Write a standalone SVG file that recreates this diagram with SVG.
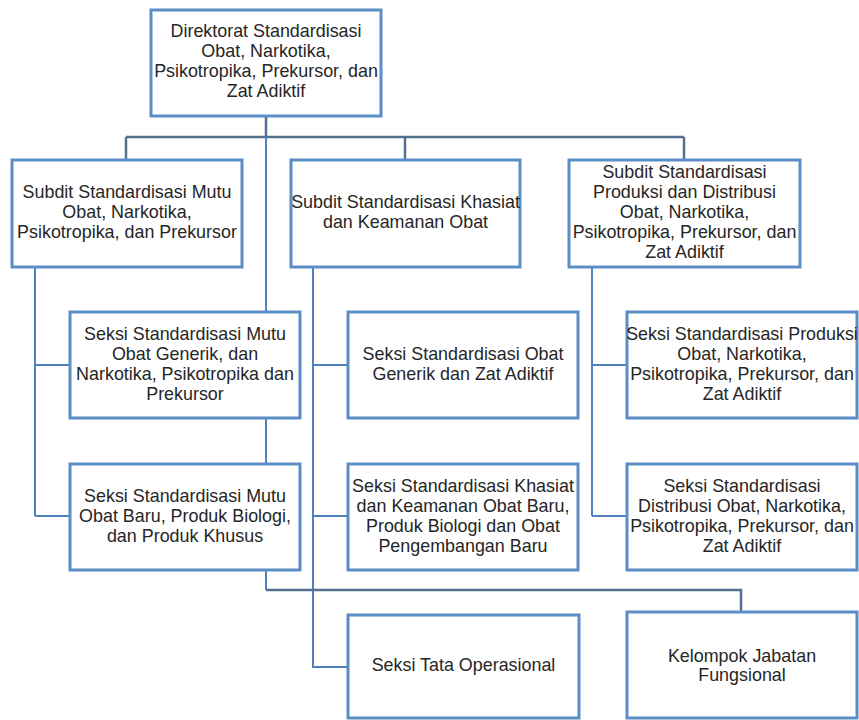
<svg xmlns="http://www.w3.org/2000/svg" width="859" height="720" viewBox="0 0 859 720">
<style>
.box{fill:#fff;stroke:#5b8ec6;stroke-width:3}
.t{font-family:"Liberation Sans",Arial,sans-serif;font-size:17.9px;fill:#262626;text-anchor:middle}
.cb{fill:none;stroke:#4f82bd;stroke-width:2}
.cg{fill:none;stroke:#53708f;stroke-width:2.5}
</style>
<rect width="859" height="720" fill="#fff"/>
<g id="connectors">
<path class="cg" d="M266 116V137M126 137H684M126 137V160M405 137V160M684 137V160"/>
<path class="cb" d="M266 137V312M266 418V464"/>
<path class="cb" d="M35 267V516M35 365H70M35 516H70"/>
<path class="cb" d="M313 267V667H348M313 365H348M313 516H348"/>
<path class="cb" d="M592 267V516M592 365H627M592 516H627"/>
<path class="cb" d="M266 570V590"/>
<path class="cg" d="M266 590H741V612"/>
</g>
<g id="direktorat">
<rect class="box" x="151" y="10" width="230" height="106"/>
<text class="t" x="266" y="37">Direktorat Standardisasi</text>
<text class="t" x="266" y="57">Obat, Narkotika,</text>
<text class="t" x="266" y="77">Psikotropika, Prekursor, dan</text>
<text class="t" x="266" y="97">Zat Adiktif</text>
</g>
<g id="subdit-mutu">
<rect class="box" x="12" y="160" width="230" height="107"/>
<text class="t" x="127" y="198">Subdit Standardisasi Mutu</text>
<text class="t" x="127" y="218">Obat, Narkotika,</text>
<text class="t" x="127" y="238">Psikotropika, dan Prekursor</text>
</g>
<g id="subdit-khasiat">
<rect class="box" x="291" y="160" width="229" height="107"/>
<text class="t" x="405.5" y="208">Subdit Standardisasi Khasiat</text>
<text class="t" x="405.5" y="228">dan Keamanan Obat</text>
</g>
<g id="subdit-produksi">
<rect class="box" x="569" y="160" width="231" height="107"/>
<text class="t" x="684.5" y="178">Subdit Standardisasi</text>
<text class="t" x="684.5" y="198">Produksi dan Distribusi</text>
<text class="t" x="684.5" y="218">Obat, Narkotika,</text>
<text class="t" x="684.5" y="238">Psikotropika, Prekursor, dan</text>
<text class="t" x="684.5" y="258">Zat Adiktif</text>
</g>
<g id="seksi-mutu-generik">
<rect class="box" x="70" y="312" width="230" height="106"/>
<text class="t" x="185" y="340">Seksi Standardisasi Mutu</text>
<text class="t" x="185" y="360">Obat Generik, dan</text>
<text class="t" x="185" y="380">Narkotika, Psikotropika dan</text>
<text class="t" x="185" y="400">Prekursor</text>
</g>
<g id="seksi-mutu-baru">
<rect class="box" x="70" y="464" width="230" height="106"/>
<text class="t" x="185" y="502">Seksi Standardisasi Mutu</text>
<text class="t" x="185" y="522">Obat Baru, Produk Biologi,</text>
<text class="t" x="185" y="542">dan Produk Khusus</text>
</g>
<g id="seksi-obat-generik">
<rect class="box" x="348" y="312" width="230" height="106"/>
<text class="t" x="463" y="360">Seksi Standardisasi Obat</text>
<text class="t" x="463" y="380">Generik dan Zat Adiktif</text>
</g>
<g id="seksi-khasiat">
<rect class="box" x="348" y="464" width="230" height="106"/>
<text class="t" x="463" y="492">Seksi Standardisasi Khasiat</text>
<text class="t" x="463" y="512">dan Keamanan Obat Baru,</text>
<text class="t" x="463" y="532">Produk Biologi dan Obat</text>
<text class="t" x="463" y="552">Pengembangan Baru</text>
</g>
<g id="seksi-produksi">
<rect class="box" x="627" y="312" width="230" height="106"/>
<text class="t" x="742" y="340">Seksi Standardisasi Produksi</text>
<text class="t" x="742" y="360">Obat, Narkotika,</text>
<text class="t" x="742" y="380">Psikotropika, Prekursor, dan</text>
<text class="t" x="742" y="400">Zat Adiktif</text>
</g>
<g id="seksi-distribusi">
<rect class="box" x="627" y="464" width="230" height="106"/>
<text class="t" x="742" y="492">Seksi Standardisasi</text>
<text class="t" x="742" y="512">Distribusi Obat, Narkotika,</text>
<text class="t" x="742" y="532">Psikotropika, Prekursor, dan</text>
<text class="t" x="742" y="552">Zat Adiktif</text>
</g>
<g id="seksi-tata">
<rect class="box" x="348" y="615" width="231" height="103"/>
<text class="t" x="463.5" y="671">Seksi Tata Operasional</text>
</g>
<g id="kelompok">
<rect class="box" x="627" y="612" width="230" height="106"/>
<text class="t" x="742" y="662">Kelompok Jabatan</text>
<text class="t" x="742" y="681">Fungsional</text>
</g>
</svg>
